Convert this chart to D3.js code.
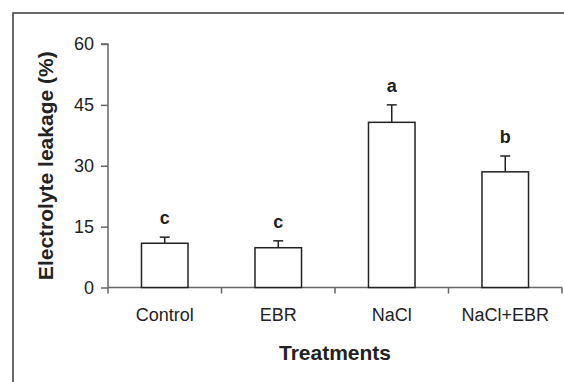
<!DOCTYPE html>
<html>
<head>
<meta charset="utf-8">
<script src="https://cdn.jsdelivr.net/npm/d3@7"></script>
<style>
  body { margin: 0; background: #fff; }
  svg { display: block; font-family: "Liberation Sans", Arial, sans-serif; }
</style>
</head>
<body>
<div id="chart"></div>
<script>
// datos
const categories = ['Control', 'EBR', 'NaCl', 'NaCl+EBR'];
const means = [10.9, 9.8, 40.7, 28.5];
const errors = [1.5, 1.7, 4.3, 3.9];
const letters = ['c', 'c', 'a', 'b'];
const yTicks = [0, 15, 30, 45, 60];

const W = 564, H = 382;
const m = { l: 108, r: 2, t: 44, b: 94.5 };

const svg = d3.select('#chart').append('svg').attr('width', W).attr('height', H);

// marco exterior (solo se ven arriba e izquierda)
svg.append('rect')
  .attr('x', 13).attr('y', 13).attr('width', 600).attr('height', 420)
  .attr('fill', 'none').attr('stroke', '#3a3a3a').attr('stroke-width', 1.5);

const x = d3.scaleBand().domain(categories).range([m.l, W - m.r]).padding(0);
const y = d3.scaleLinear().domain([0, 60]).range([H - m.b, m.t]);
const bw = x.bandwidth() * 0.41;

// eje Y
const yAxis = svg.append('g')
  .attr('transform', `translate(${m.l},0)`)
  .call(d3.axisLeft(y).tickValues(yTicks).tickSize(7).tickPadding(7));
yAxis.attr('font-size', null).attr('font-family', null);
yAxis.select('.domain').attr('stroke', '#666').attr('stroke-width', 1.5).attr('d', `M-7,${y(60)}H0V${y(0)}`);
yAxis.selectAll('.tick line').attr('stroke', '#666').attr('stroke-width', 1.5);
yAxis.selectAll('.tick text').attr('font-size', 18).attr('fill', '#222');

// eje X: marcas en los límites de cada categoría
const xAxis = svg.append('g').attr('transform', `translate(0,${y(0)})`);
xAxis.append('line')
  .attr('x1', m.l).attr('x2', W - m.r).attr('stroke', '#666').attr('stroke-width', 1.5);
const bounds = categories.map(c => x(c)).concat([x(categories[categories.length - 1]) + x.bandwidth()]);
xAxis.selectAll('line.tk').data(bounds).enter().append('line')
  .attr('class', 'tk')
  .attr('x1', d => d).attr('x2', d => d).attr('y1', 0).attr('y2', 6)
  .attr('stroke', '#666').attr('stroke-width', 1.5);
xAxis.selectAll('text').data(categories).enter().append('text')
  .attr('x', d => x(d) + x.bandwidth() / 2).attr('y', 33)
  .attr('text-anchor', 'middle').attr('font-size', 18).attr('fill', '#222')
  .text(d => d);

// barras
const data = categories.map((c, i) => ({ c, v: means[i], e: errors[i], l: letters[i] }));
svg.selectAll('rect.bar').data(data).enter().append('rect')
  .attr('class', 'bar')
  .attr('x', d => x(d.c) + (x.bandwidth() - bw) / 2)
  .attr('y', d => y(d.v))
  .attr('width', bw)
  .attr('height', d => y(0) - y(d.v))
  .attr('fill', '#fff').attr('stroke', '#222').attr('stroke-width', 1.5);

// barras de error (solo hacia arriba)
const cx = d => x(d.c) + x.bandwidth() / 2;
svg.selectAll('line.err').data(data).enter().append('line')
  .attr('class', 'err')
  .attr('x1', cx).attr('x2', cx)
  .attr('y1', d => y(d.v)).attr('y2', d => y(d.v + d.e))
  .attr('stroke', '#222').attr('stroke-width', 1.5);
svg.selectAll('line.cap').data(data).enter().append('line')
  .attr('class', 'cap')
  .attr('x1', d => cx(d) - 5).attr('x2', d => cx(d) + 5)
  .attr('y1', d => y(d.v + d.e)).attr('y2', d => y(d.v + d.e))
  .attr('stroke', '#222').attr('stroke-width', 1.5);

// letras de significancia
svg.selectAll('text.sig').data(data).enter().append('text')
  .attr('class', 'sig')
  .attr('x', cx).attr('y', d => y(d.v + d.e) - 13)
  .attr('text-anchor', 'middle').attr('font-size', 18).attr('font-weight', 'bold').attr('fill', '#222')
  .text(d => d.l);

// títulos de ejes
svg.append('text')
  .attr('transform', `translate(53,${(y(0) + y(60)) / 2}) rotate(-90)`)
  .attr('text-anchor', 'middle').attr('font-size', 21).attr('font-weight', 'bold').attr('fill', '#222')
  .text('Electrolyte leakage (%)');
svg.append('text')
  .attr('x', 335).attr('y', 360)
  .attr('text-anchor', 'middle').attr('font-size', 21).attr('font-weight', 'bold').attr('fill', '#222')
  .text('Treatments');
</script>
</body>
</html>
